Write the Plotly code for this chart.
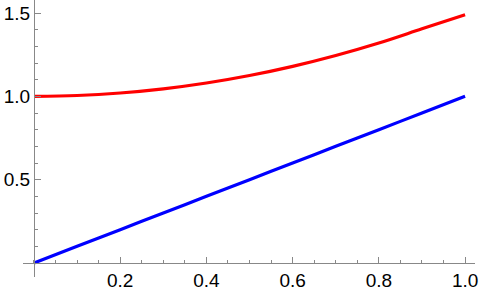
import plotly.graph_objects as go

x_vals = [0.0, 0.1, 0.2, 0.3, 0.4, 0.5, 0.6, 0.7, 0.8, 0.9, 1.0]
red_vals = [1.0, 1.005, 1.02, 1.045, 1.08, 1.125, 1.18, 1.245, 1.32, 1.405, 1.49]
blue_vals = [0.0, 0.1, 0.2, 0.3, 0.4, 0.5, 0.6, 0.7, 0.8, 0.9, 1.0]

x_tickvals = [0.2, 0.4, 0.6, 0.8, 1.0]
x_ticktext = ["0.2", "0.4", "0.6", "0.8", "1.0"]
y_tickvals = [0.5, 1.0, 1.5]
y_ticktext = ["0.5", "1.0", "1.5"]

W, H = 482, 297
ml, mr, mt, mb = 23, 7, 0, 20
xr = [-0.0255, 1.023]
yr = [-0.084, 1.578]

fig = go.Figure()
fig.add_trace(go.Scatter(x=x_vals, y=blue_vals, mode="lines",
                         line=dict(color="#0000ff", width=3.2), line_shape="spline"))
fig.add_trace(go.Scatter(x=x_vals, y=red_vals, mode="lines",
                         line=dict(color="#ff0000", width=3.2), line_shape="spline"))

xpos = (0 - yr[0]) / (yr[1] - yr[0])
ypos = (0 - xr[0]) / (xr[1] - xr[0])

axis_color = "#888888"
font = dict(family="Liberation Sans, Arial, sans-serif", size=19, color="#000000")

fig.update_layout(
    width=W, height=H,
    margin=dict(l=ml, r=mr, t=mt, b=mb),
    paper_bgcolor="white", plot_bgcolor="white",
    showlegend=False,
    xaxis=dict(range=xr, showgrid=False, zeroline=False,
               anchor="free", position=xpos,
               showline=True, linecolor=axis_color, linewidth=1,
               tickvals=x_tickvals, ticktext=x_ticktext,
               ticks="inside", ticklen=6, tickcolor=axis_color,
               minor=dict(ticks="inside", dtick=0.05, tick0=0, ticklen=3,
                          tickcolor=axis_color, showgrid=False),
               tickfont=font),
    yaxis=dict(range=yr, showgrid=False, zeroline=False,
               anchor="free", position=ypos,
               showline=True, linecolor=axis_color, linewidth=1,
               tickvals=y_tickvals, ticktext=y_ticktext,
               ticks="inside", ticklen=6, tickcolor=axis_color,
               minor=dict(ticks="inside", dtick=0.1, tick0=0, ticklen=3,
                          tickcolor=axis_color, showgrid=False),
               tickfont=font),
)

fig.write_html("out.html")
